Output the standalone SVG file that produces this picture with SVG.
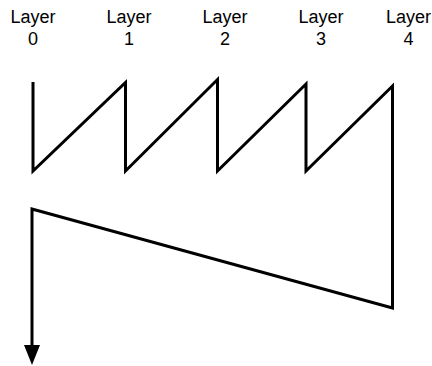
<svg xmlns="http://www.w3.org/2000/svg" width="432" height="366" viewBox="0 0 432 366">
<style>
.lbl{font-family:"Liberation Sans",Arial,sans-serif;font-size:18px;fill:#000;text-anchor:middle}
.ln{fill:none;stroke:#000;stroke-width:3;stroke-linejoin:miter;stroke-miterlimit:10}
</style>
<defs>
<marker id="arr" markerUnits="userSpaceOnUse" markerWidth="20" markerHeight="16" refX="0" refY="8" orient="auto" viewBox="0 0 20 16">
<path d="M0,0 L20,8 L0,16 Z" fill="#000"/>
</marker>
</defs>
<rect width="432" height="366" fill="#fff"/>
<g id="layer0"><text class="lbl" x="33" y="22.5">Layer</text><text class="lbl" x="33" y="44.5">0</text></g>
<g id="layer1"><text class="lbl" x="129" y="22.5">Layer</text><text class="lbl" x="129" y="44.5">1</text></g>
<g id="layer2"><text class="lbl" x="225" y="22.5">Layer</text><text class="lbl" x="225" y="44.5">2</text></g>
<g id="layer3"><text class="lbl" x="321" y="22.5">Layer</text><text class="lbl" x="321" y="44.5">3</text></g>
<g id="layer4"><text class="lbl" x="408.5" y="22.5">Layer</text><text class="lbl" x="408.5" y="44.5">4</text></g>
<g id="connectors">
<path class="ln" marker-end="url(#arr)" d="M33,82 L33,171 L125.5,82.5 L125.5,171 L217.5,79.5 L217.5,171 L306,84 L306,171 L392.5,86 L392.5,308 L32,209 L32,345"/>
</g>
</svg>
